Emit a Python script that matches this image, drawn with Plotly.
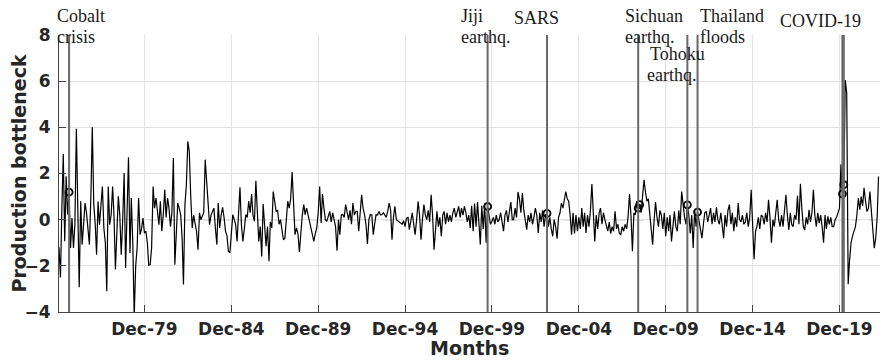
import pandas as pd
import plotly.graph_objects as go

# ---------------- data ----------------
start_month = "1975-01-01"
bottleneck = [
    # 1975
    -1.2, -2.5, 0.4, 2.84, -0.94, 1.88, 0.22, 1.19, -1.23, 0.07, -1.23, -0.2,
    # 1976
    3.94, 0.5, -2.93, 0.8, -1.08, -0.2, 0.72, 0.3, -0.5, -1.08, 1.0, 4.0,
    # 1977
    0.65, -0.22, -1.52, 0.79, -0.22, 0.5, 1.44, -0.36, -1.0, -3.1, 1.44, -0.22,
    # 1978
    0.2, 1.44, 0.22, -2.16, -0.8, 1.01, 0.22, -1.52, 0.0, 2.02, -2.09, 0.5,
    # 1979
    2.7, -1.44, 0.94, -1.0, -4.2, -2.0, -1.23, 0.94, -0.65, -0.4, 0.07, -0.58,
    # 1980
    -0.5, -1.0, -1.98, -1.95, -1.2, 1.44, 0.5, 0.94, 0.3, -0.22, 0.8, -0.5,
    # 1981
    0.22, 1.3, 0.1, 0.94, 0.5, -0.3, 0.3, 2.67, -1.95, -0.6, 0.72, 0.5,
    # 1982
    0.22, -0.8, -2.81, 0.65, 1.5, 3.39, 2.96, 1.0, -0.36, 0.2, -0.22, -0.5,
    # 1983
    -1.3, 0.3, 0.0, 0.2, 0.3, 2.6, 1.66, 0.3, -0.22, 0.2, 0.4, 0.5,
    # 1984
    -0.36, -1.08, 0.72, -0.36, 0.2, 0.53, 0.1, -0.5, -0.7, -1.37, -1.44, -0.5,
    # 1985
    0.22, 0.0, -0.2, -0.94, 0.5, 1.4, -0.22, -0.94, -0.4, 0.22, 0.1, 0.8,
    # 1986
    0.3, 1.11, 0.2, -0.07, 1.69, 0.5, -0.94, -0.3, -1.59, 0.68, -0.3, -1.15,
    # 1987
    -0.3, -1.8, -0.1, -0.36, 1.22, 0.7, 0.36, 0.4, -0.2, 0.0, -0.5, -0.87,
    # 1988
    -0.8, 0.1, 0.8, 0.5, 0.9, 2.06, 0.5, -0.65, -0.36, -0.6, -1.4, -0.5,
    # 1989
    0.2, 0.65, 0.22, 0.5, 0.22, 0.0, -0.36, -0.5, -0.94, -0.6, -0.36, 0.3,
    # 1990
    1.44, -0.14, 1.11, 0.5, 0.0, -0.07, 0.1, 0.36, -0.1, 0.3, 0.0, -0.3,
    # 1991
    -1.35, 0.0, -0.65, 0.2, 0.22, 0.1, 0.65, 0.3, 0.0, 0.4, -0.2, 0.72,
    # 1992
    0.2, 0.36, 0.36, -0.5, 0.4, 1.08, 0.5, 0.22, -0.22, -1.05, 0.0, 0.22,
    # 1993
    0.2, -0.65, -0.2, 0.22, 0.2, 0.36, 0.2, 0.22, 0.3, 0.22, 0.1, 0.36,
    # 1994
    0.72, 0.4, -0.87, 0.1, 0.58, 0.0, -0.07, -0.1, -0.15, -0.2, -0.05, -0.3,
    # 1995
    0.07, 0.1, -0.43, 0.0, 0.3, -0.2, -0.65, 0.0, 0.79, 0.2, -0.87, 0.0,
    # 1996
    0.65, 0.2, 0.0, 0.4, -0.1, 1.08, 0.2, -1.3, -0.4, 0.36, -0.3, 0.1,
    # 1997
    -0.72, 0.2, 0.36, -0.2, 0.3, -0.1, 0.2, -0.1, 0.3, 0.5, 0.1, 0.4,
    # 1998
    0.58, 0.1, 0.5, 0.2, 0.58, 0.3, -0.1, 0.2, -0.36, 0.6, -0.5, 0.7,
    # 1999
    -0.3, 0.76, -0.2, -1.08, 0.6, -0.4, 0.7, -1.0, 0.57, 0.1, -0.2, -0.07,
    # 2000
    0.1, -0.2, 0.2, -0.1, 0.0, 0.3, -0.2, -0.5, 0.2, 0.4, -0.1, 0.3,
    # 2001
    0.76, 0.0, 0.0, 0.5, 0.1, 1.2, 0.9, 0.3, 1.15, 0.4, 0.0, -0.43,
    # 2002
    0.2, -0.1, 0.3, -0.2, 0.1, 0.5, 0.2, -0.58, 0.3, -0.1, 0.4, -0.3,
    # 2003
    0.2, 0.27, -0.3, 0.1, -0.4, -0.72, 0.0, -0.3, -0.82, 0.1, 0.3, 0.72,
    # 2004
    0.5, 1.0, 1.22, 0.9, 0.8, 0.2, -0.65, 0.3, -0.6, 0.2, -0.5, 0.1,
    # 2005
    -0.4, 0.5, -0.3, 0.3, -0.58, 0.2, -0.3, 0.4, 1.54, 0.3, -0.94, 0.2,
    # 2006
    -0.4, 0.3, 0.5, -0.2, 0.3, 0.0, -0.2, -0.5, -0.1, -0.6, -0.3, -0.5,
    # 2007
    0.36, -0.4, -0.2, -0.6, -0.65, -0.3, -0.5, -0.2, -0.4, 0.1, 1.11, 0.2,
    # 2008
    -1.37, 0.3, 0.2, 0.8, 0.5, 0.65, 0.3, 1.0, 1.73, 1.2, 0.8, 0.9,
    # 2009
    0.2, -0.3, -1.08, 0.0, 0.76, 0.1, -0.3, 0.4, 0.2, -0.4, 0.3, -0.72,
    # 2010
    0.1, -0.5, 0.2, -0.94, -0.2, 0.36, -0.3, -0.5, 0.4, -0.2, 1.22, 0.5,
    # 2011
    0.1, -0.2, 0.64, 0.2, -0.6, 0.2, -1.23, 0.4, -0.3, 0.33, 0.0, -0.3,
    # 2012
    -0.8, -0.2, 0.3, 0.36, -0.1, 0.2, 0.5, -0.2, 0.3, -0.1, 0.53, 0.0,
    # 2013
    -0.2, 0.3, -0.3, -0.8, 0.2, -0.3, 0.4, 0.65, -0.2, 0.3, -0.5, 0.1,
    # 2014
    -0.3, 0.72, 0.0, -0.1, 0.2, -0.2, -0.1, 0.3, -0.3, 0.1, 1.29, 0.0,
    # 2015
    -1.71, -0.5, -0.3, 0.1, -0.4, 0.2, 0.14, -0.2, 0.3, -0.1, 0.86, 0.1,
    # 2016
    -1.0, 0.0, -0.3, 0.3, 0.86, 0.0, -0.3, 0.2, -0.3, 0.4, 1.08, 0.2,
    # 2017
    -0.44, 0.3, -0.2, -0.3, 0.2, 0.0, 1.03, -0.2, 1.55, 0.5, -0.3, -0.45,
    # 2018
    0.1, -0.2, 0.43, -0.1, 0.3, 1.29, 0.2, -0.3, 0.3, -0.15, 0.2, -0.3,
    # 2019
    -1.0, 0.2, -0.4, 0.14, -0.2, 0.1, -0.3, -0.3, 0.0, 0.1, 0.28, 0.5,
    # 2020
    2.4, 1.12, 1.52, 6.05, 5.5, -2.8, -1.74, -1.0, -0.7, -0.5, -0.3, 0.2,
    # 2021
    0.93, 0.43, 1.0, 0.6, 1.38, 0.8, 0.35, 0.5, 1.22, 0.4, -0.5, -1.23,
    # 2022
    -0.8, 0.14, 1.87,
]

event_months = ["1975-08-01", "1999-09-01", "2003-02-01", "2008-05-01",
                "2011-03-01", "2011-10-01", "2020-02-01", "2020-03-01"]
marked_months = ["1975-08-01", "1999-09-01", "2003-02-01", "2008-05-01", "2008-06-01",
                 "2011-03-01", "2011-10-01", "2020-02-01", "2020-03-01"]
event_label_lines = ["Cobalt", "crisis", "Jiji", "earthq.", "SARS", "Sichuan", "earthq.",
                     "Tohoku", "earthq.", "Thailand", "floods", "COVID-19"]

tick_dates = ["1979-12-01", "1984-12-01", "1989-12-01", "1994-12-01", "1999-12-01",
              "2004-12-01", "2009-12-01", "2014-12-01", "2019-12-01"]
tick_labels = ["Dec-79", "Dec-84", "Dec-89", "Dec-94", "Dec-99",
               "Dec-04", "Dec-09", "Dec-14", "Dec-19"]
y_ticks = [-4, -2, 0, 2, 4, 6, 8]
x_title = "Months"
y_title = "Production bottleneck"

# ---------------- figure ----------------
months = pd.date_range(start_month, periods=len(bottleneck), freq="MS")
series = pd.Series(bottleneck, index=months)

W, H = 881, 360
ML, MR, MT, MB = 59, 1, 35, 48
PW, PH = W - ML - MR, H - MT - MB

fig = go.Figure()
fig.add_trace(go.Scatter(x=months, y=bottleneck, mode="lines",
                         line=dict(color="black", width=1.2), showlegend=False,
                         hoverinfo="skip"))

for d in event_months:
    fig.add_shape(type="line", xref="x", yref="y", x0=d, x1=d, y0=-4, y1=8,
                  line=dict(color="rgb(105,105,105)", width=2), layer="above")

mk = pd.to_datetime(marked_months)
fig.add_trace(go.Scatter(x=mk, y=series.loc[mk].values, mode="markers",
                         marker=dict(symbol="circle-open", size=7, color="black",
                                     line=dict(width=1.8, color="black")),
                         showlegend=False, hoverinfo="skip"))

# dashed zero line
fig.add_shape(type="line", xref="paper", yref="y", x0=0, x1=1, y0=0, y1=0,
              line=dict(color="rgb(60,60,60)", width=1, dash="dash"), layer="below")

# event labels (pixel placement)
label_pos = [(55, 16), (55, 37), (459, 16), (459, 37), (512, 18), (623, 16), (623, 37),
             (647.5, 54), (644.5, 75), (698, 16), (698, 37), (778, 21)]
for txt, (px, py) in zip(event_label_lines, label_pos):
    fig.add_annotation(text=txt, xref="paper", yref="paper",
                       x=(px - ML) / PW, y=(H - MB - py) / PH,
                       xanchor="left", yanchor="middle", showarrow=False,
                       font=dict(family="Liberation Serif", size=18, color="#1a1a1a"))

axis_font = dict(family="DejaVu Sans", size=17, color="#262626", weight="bold")
title_font = dict(family="DejaVu Sans", size=19, color="#262626", weight="bold")

# axis titles
fig.add_annotation(text=y_title, textangle=-90, xref="paper", yref="paper",
                   x=(18 - ML) / PW, y=0.5, xanchor="center", yanchor="middle",
                   showarrow=False, font=title_font)
fig.add_annotation(text=x_title, xref="paper", yref="paper",
                   x=0.5, y=(H - MB - 348) / PH, xanchor="center", yanchor="middle",
                   showarrow=False, font=title_font)

fig.update_xaxes(type="date", range=["1975-01-01", "2022-04-01"],
                 tickvals=tick_dates, ticktext=tick_labels, tickfont=axis_font,
                 ticks="inside", ticklen=7, tickcolor="#444", tickwidth=1,
                 showline=True, linecolor="#444", linewidth=1,
                 showgrid=True, gridcolor="#e3e3e3", gridwidth=1, zeroline=False,
                 ticklabelstandoff=2)
fig.update_yaxes(range=[-4, 8], tickvals=y_ticks, tickfont=axis_font,
                 ticks="inside", ticklen=7, tickcolor="#444", tickwidth=1,
                 showline=True, linecolor="#444", linewidth=1,
                 showgrid=True, gridcolor="#e3e3e3", gridwidth=1, zeroline=False,
                 ticklabelstandoff=4)

fig.update_layout(width=W, height=H, margin=dict(l=ML, r=MR, t=MT, b=MB, autoexpand=False),
                  plot_bgcolor="white", paper_bgcolor="white", showlegend=False)

fig.write_html("out.html")
